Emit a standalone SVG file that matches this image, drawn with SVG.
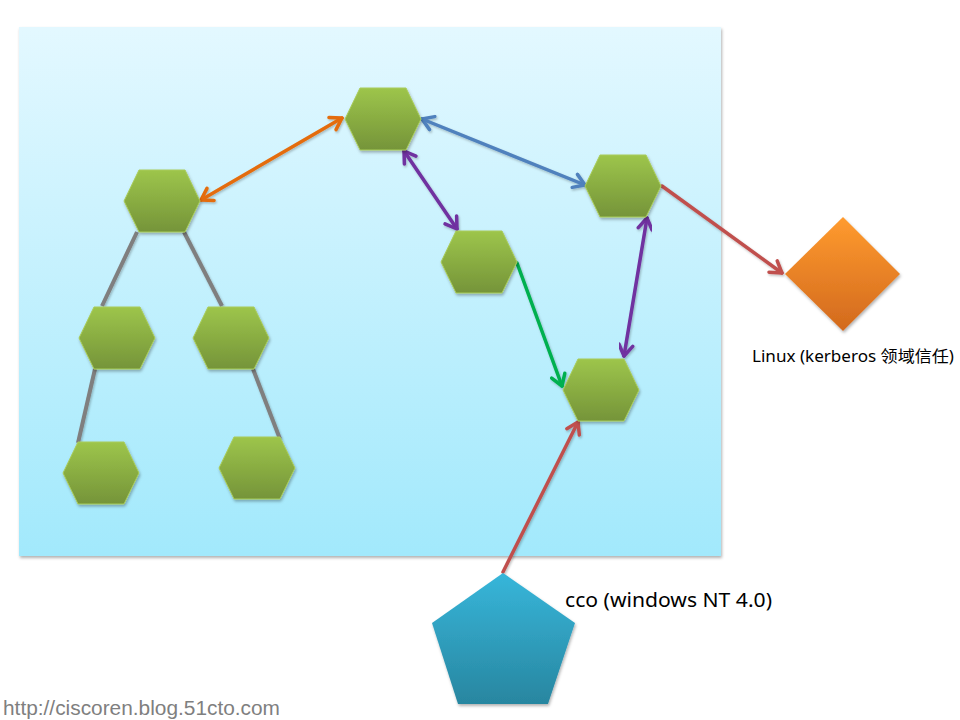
<svg xmlns="http://www.w3.org/2000/svg" width="960" height="720" viewBox="0 0 960 720">
<defs>
<linearGradient id="bg" x1="0" y1="0" x2="0" y2="1"><stop offset="0" stop-color="#e3f8ff"/><stop offset="1" stop-color="#a2e9fc"/></linearGradient>
<linearGradient id="hexg" x1="0" y1="0" x2="0" y2="1"><stop offset="0" stop-color="#9dc54b"/><stop offset="1" stop-color="#759439"/></linearGradient>
<linearGradient id="diag" x1="0" y1="0" x2="0" y2="1"><stop offset="0" stop-color="#ff9b2f"/><stop offset="1" stop-color="#d2691d"/></linearGradient>
<linearGradient id="peng" x1="0" y1="0" x2="0" y2="1"><stop offset="0" stop-color="#37b6da"/><stop offset="1" stop-color="#2886a0"/></linearGradient>
<filter id="sh" x="-20%" y="-20%" width="140%" height="140%"><feDropShadow dx="1" dy="2" stdDeviation="1.5" flood-color="#000" flood-opacity="0.3"/></filter>
<filter id="lsh" x="-20%" y="-20%" width="140%" height="140%"><feDropShadow dx="1" dy="1.5" stdDeviation="1" flood-color="#000" flood-opacity="0.25"/></filter>
<marker id="aO" markerUnits="userSpaceOnUse" viewBox="-14 -9 16 18" refX="0" refY="0" markerWidth="16" markerHeight="18" orient="auto-start-reverse"><path d="M-11,-7 L0,0 L-11,7" fill="none" stroke="#e46c0a" stroke-width="3.5" stroke-linecap="round" stroke-linejoin="round"/></marker>
<marker id="aB" markerUnits="userSpaceOnUse" viewBox="-14 -9 16 18" refX="0" refY="0" markerWidth="16" markerHeight="18" orient="auto-start-reverse"><path d="M-11,-7 L0,0 L-11,7" fill="none" stroke="#4f81bd" stroke-width="3.5" stroke-linecap="round" stroke-linejoin="round"/></marker>
<marker id="aP" markerUnits="userSpaceOnUse" viewBox="-14 -9 16 18" refX="0" refY="0" markerWidth="16" markerHeight="18" orient="auto-start-reverse"><path d="M-11,-7 L0,0 L-11,7" fill="none" stroke="#7030a0" stroke-width="3.5" stroke-linecap="round" stroke-linejoin="round"/></marker>
<marker id="aG" markerUnits="userSpaceOnUse" viewBox="-14 -9 16 18" refX="0" refY="0" markerWidth="16" markerHeight="18" orient="auto"><path d="M-11,-7 L0,0 L-11,7" fill="none" stroke="#00b050" stroke-width="3.5" stroke-linecap="round" stroke-linejoin="round"/></marker>
<marker id="aR" markerUnits="userSpaceOnUse" viewBox="-14 -9 16 18" refX="0" refY="0" markerWidth="16" markerHeight="18" orient="auto"><path d="M-11,-7 L0,0 L-11,7" fill="none" stroke="#c0504d" stroke-width="3.5" stroke-linecap="round" stroke-linejoin="round"/></marker>
<polygon id="hex" points="-38,0 -23,-31 23,-31 38,0 23,31 -23,31"/>
</defs>
<style>
.hx{fill:url(#hexg);stroke:#a9cc5a;stroke-width:1;filter:url(#sh)}
.ar{fill:none;stroke-width:3.5;stroke-linecap:round;filter:url(#lsh)}
.tr{fill:none;stroke:#7f7f7f;stroke-width:4;filter:url(#lsh)}
</style>
<rect id="panel" x="19" y="27" width="702" height="529" fill="url(#bg)" filter="url(#sh)"/>
<g id="connectors">
<line class="tr" x1="137" y1="232" x2="102" y2="306"/>
<line class="tr" x1="184" y1="232" x2="222" y2="306"/>
<line class="tr" x1="95" y1="369" x2="78" y2="443"/>
<line class="tr" x1="253" y1="369" x2="280" y2="439"/>
<line class="ar" stroke="#e46c0a" x1="342" y1="118" x2="201" y2="200" marker-start="url(#aO)" marker-end="url(#aO)"/>
<line class="ar" stroke="#4f81bd" x1="422" y1="119" x2="585" y2="185" marker-start="url(#aB)" marker-end="url(#aB)"/>
<line class="ar" stroke="#7030a0" x1="404" y1="151" x2="457" y2="229" marker-start="url(#aP)" marker-end="url(#aP)"/>
<line class="ar" stroke="#7030a0" x1="647" y1="218" x2="624" y2="356" marker-start="url(#aP)" marker-end="url(#aP)"/>
<line class="ar" stroke="#00b050" x1="517" y1="263" x2="562" y2="386" marker-end="url(#aG)"/>
<line class="ar" stroke="#c0504d" x1="662" y1="186" x2="782" y2="273" marker-end="url(#aR)"/>
<line class="ar" stroke="#c0504d" x1="503" y1="572" x2="578" y2="422" marker-end="url(#aR)"/>
</g>
<g id="n1"><use href="#hex" class="hx" x="383" y="119"/></g>
<g id="n2"><use href="#hex" class="hx" x="162" y="201"/></g>
<g id="n3"><use href="#hex" class="hx" x="623" y="186"/></g>
<g id="n4"><use href="#hex" class="hx" x="479" y="262"/></g>
<g id="n5"><use href="#hex" class="hx" x="601" y="390"/></g>
<g id="n6"><use href="#hex" class="hx" x="117" y="338"/></g>
<g id="n7"><use href="#hex" class="hx" x="231" y="338"/></g>
<g id="n8"><use href="#hex" class="hx" x="101" y="473"/></g>
<g id="n9"><use href="#hex" class="hx" x="257" y="468"/></g>
<g id="linux">
<polygon points="843,217 900,274 843,331 785,274" fill="url(#diag)" filter="url(#sh)"/>
<text x="752" y="362" font-family="'Noto Sans','Noto Sans CJK SC',sans-serif" font-size="15.5" textLength="202" lengthAdjust="spacingAndGlyphs" fill="#000">Linux (kerberos 领域信任)</text>
</g>
<g id="cco">
<polygon points="503,573 575,623 548,704 458,704 432,623" fill="url(#peng)" filter="url(#sh)"/>
<text x="565" y="607" font-family="'Noto Sans',sans-serif" font-size="20.5" textLength="207" lengthAdjust="spacingAndGlyphs" fill="#000">cco (windows NT 4.0)</text>
</g>
<text x="3" y="715" font-family="'Liberation Sans',Arial,sans-serif" font-size="20.5" textLength="277" lengthAdjust="spacingAndGlyphs" fill="#7f7f7f" stroke="#fff" stroke-width="0.6" paint-order="stroke">http://ciscoren.blog.51cto.com</text>
</svg>
